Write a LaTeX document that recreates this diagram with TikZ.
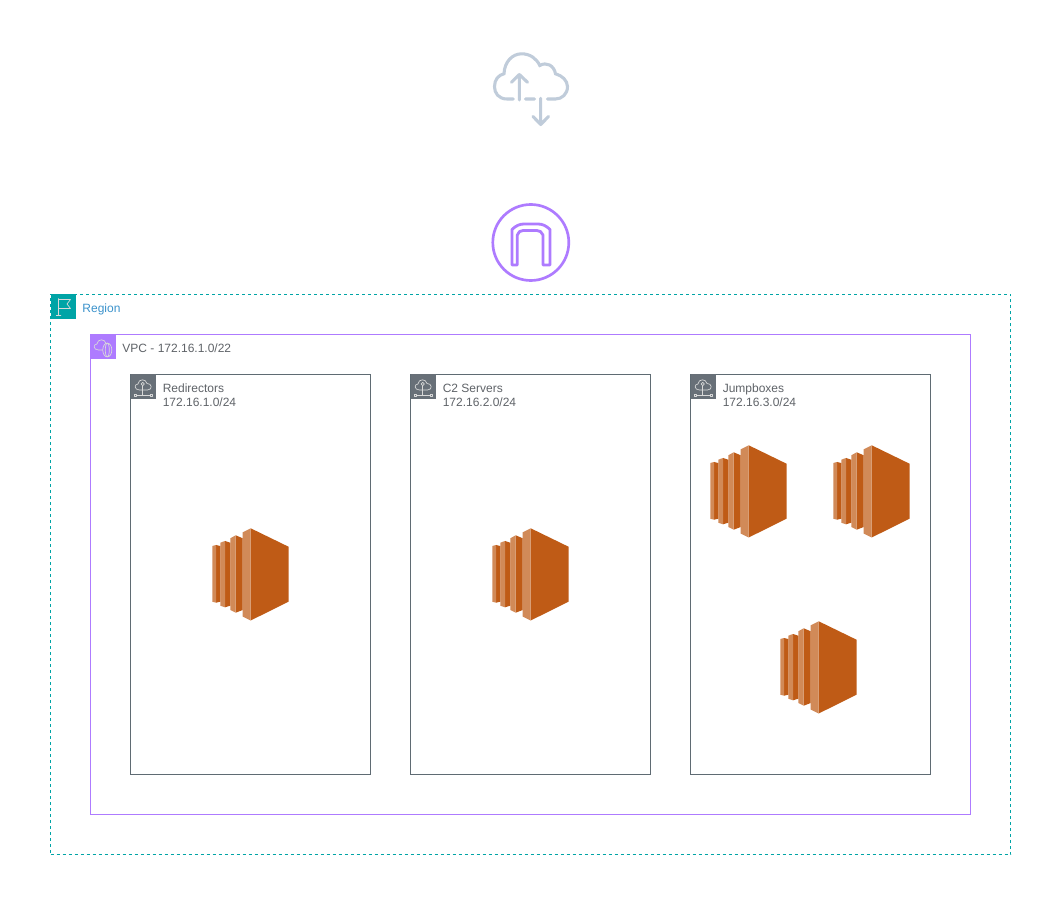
\documentclass[tikz,border=0pt]{standalone}
\usepackage{fontspec}
\setmainfont{Liberation Sans}
\usepackage{tikz}
\usetikzlibrary{positioning}
\definecolor{regioncol}{HTML}{00A4A6}
\definecolor{regiontxt}{HTML}{3C93CC}
\definecolor{vpccol}{HTML}{AE7BFF}
\definecolor{subnetcol}{HTML}{5F6B73}
\definecolor{subnettile}{HTML}{687078}
\definecolor{subnettxt}{HTML}{5F6368}
\definecolor{cloudcol}{HTML}{C0CCDA}
\definecolor{ec2dark}{HTML}{BF5B16}
\definecolor{ec2light}{HTML}{D18A58}
\tikzset{
    groupbox/.style={
           rectangle,
           draw,
           fill=none,
           outer sep=0pt,
           inner sep=0pt,
           line width=0.6pt,
           },
    tile/.style={
           rectangle,
           minimum size=18.75pt,
           outer sep=0pt,
           inner sep=0pt,
           anchor=north west,
           },
    grouplabel/.style={
           font=\fontsize{9}{10.5}\selectfont,
           align=left,
           inner sep=0pt,
           },
    tileicon/.style={
           draw=white!85!black, line width=0.5pt, fill=none,
           line join=round,
           },
    ec2/.pic={
        % front face
        \fill[ec2dark] (38.7,0.3) -- (76.5,18.7) -- (76.5,73.7) -- (38.7,92.5) -- cycle;
        \fill[ec2light] (30.7,4.3) -- (38.7,0.3) -- (38.7,92.5) -- (30.7,88.5) -- cycle;
        % three bars, back to front
        \fill[ec2dark] (23.7,7.3) -- (30.7,10.3) -- (30.7,82) -- (23.7,84.7) -- cycle;
        \fill[ec2light] (18.3,10.3) -- (23.7,7.3) -- (23.7,84.7) -- (18.3,82) -- cycle;
        \fill[ec2dark] (13,13) -- (18.3,14.7) -- (18.3,77.7) -- (13,79.3) -- cycle;
        \fill[ec2light] (8.3,14.7) -- (13,13) -- (13,79.3) -- (8.3,77.7) -- cycle;
        \fill[ec2dark] (4,17) -- (8.3,18) -- (8.3,73.7) -- (4,74.7) -- cycle;
        \fill[ec2light] (0.3,18) -- (4,17) -- (4,74.7) -- (0.3,73.7) -- cycle;
    },
    minicloud/.pic={
        \draw[tileicon] (-3.5,3.5) .. controls (-9,3.5) and (-9,-2.5) .. (-5,-2.5)
            .. controls (-4.5,-8) and (3,-8) .. (4,-3)
            .. controls (9,-3.5) and (10,3.5) .. (4.5,3.5) -- cycle;
    },
}

\begin{document}
\begin{tikzpicture}[x=0.75pt,y=-0.75pt]
    \useasboundingbox (0,0) rectangle (1061,905);
    \fill[white] (0,0) rectangle (1061,905);

    % REGION
    \node[groupbox,
        draw=regioncol,
        dash pattern=on 2.25pt off 2.25pt,
        minimum width=720pt,
        minimum height=420pt,
        anchor=north west] (G_REGION) at (50.5,294.5) {};
    \node[tile, fill=regioncol] (T_REGION) at (G_REGION.north west) {};
    \node[grouplabel,
        text=regiontxt,
        yshift=-1.5pt,
        right=5pt of T_REGION] (L_REGION) {Region};

    % VPC
    \node[groupbox,
        draw=vpccol,
        minimum width=660pt,
        minimum height=360pt,
        anchor=north west] (G_VPC) at (90.5,334.5) {};
    \node[tile, fill=vpccol] (T_VPC) at (G_VPC.north west) {};
    \node[grouplabel,
        text=subnettxt,
        yshift=-1.2pt,
        right=5pt of T_VPC] (L_VPC) {VPC - 172.16.1.0/22};

    % SUBNETS
    \node[groupbox,
        draw=subnetcol,
        minimum width=180pt,
        minimum height=300pt,
        anchor=north west] (G_RED) at (130.5,374.5) {};
    \node[groupbox,
        draw=subnetcol,
        minimum width=180pt,
        minimum height=300pt,
        right=30pt of G_RED] (G_C2) {};
    \node[groupbox,
        draw=subnetcol,
        minimum width=180pt,
        minimum height=300pt,
        right=30pt of G_C2] (G_JUMP) {};

    \foreach \grp/\txt in {RED/{Redirectors\\172.16.1.0/24},
                           C2/{C2 Servers\\172.16.2.0/24},
                           JUMP/{Jumpboxes\\172.16.3.0/24}}
    {
        \node[tile, fill=subnettile] (T_\grp) at (G_\grp.north west) {};
        \node[grouplabel,
            text=subnettxt,
            anchor=north west,
            xshift=24pt,
            yshift=-6.7pt] (L_\grp) at (G_\grp.north west) {\txt};
        % small cloud on a network line
        \pic[shift={(12.5,12)}] at (G_\grp.north west) {minicloud};
        \draw[tileicon] ([shift={(12.2,9.5)}]G_\grp.north west) circle (1.2pt);
        \draw[tileicon] ([shift={(12.2,11.5)}]G_\grp.north west) -- ([shift={(12.2,20.5)}]G_\grp.north west)
            ([shift={(5.5,20.5)}]G_\grp.north west) -- ([shift={(19.5,20.5)}]G_\grp.north west);
        \draw[tileicon] ([shift={(3.5,19.5)}]G_\grp.north west) rectangle ([shift={(5.5,21.5)}]G_\grp.north west);
        \draw[tileicon] ([shift={(19.5,19.5)}]G_\grp.north west) rectangle ([shift={(21.5,21.5)}]G_\grp.north west);
    }

    % white marks on the region and vpc tiles
    \draw[tileicon] ([shift={(8,4)}]G_REGION.north west) -- ([shift={(8,21)}]G_REGION.north west)
        ([shift={(5.5,21)}]G_REGION.north west) -- ([shift={(10.5,21)}]G_REGION.north west)
        ([shift={(8,5)}]G_REGION.north west) -- ([shift={(20,5)}]G_REGION.north west)
        -- ([shift={(16.5,9.5)}]G_REGION.north west) -- ([shift={(20,14)}]G_REGION.north west)
        -- ([shift={(8,14)}]G_REGION.north west);
    \pic[shift={(11.5,12)}] at (G_VPC.north west) {minicloud};
    \draw[tileicon, fill=vpccol] ([shift={(16.8,15.5)}]G_VPC.north west) ellipse (3.4pt and 5.2pt);
    \draw[tileicon] ([shift={(16.8,15.5)}]G_VPC.north west) ellipse (1.5pt and 5.2pt);

    % INSTANCES
    \pic (E_RED) at (212,528) {ec2};
    \pic (E_C2) at (492,528) {ec2};
    \pic (E_JUMP_A) at (710,445) {ec2};
    \pic (E_JUMP_B) at (833,445) {ec2};
    \pic (E_JUMP_C) at (780,621) {ec2};

    % INTERNET GATEWAY
    \node[circle,
        draw=vpccol,
        line width=2pt,
        minimum size=57pt,
        inner sep=0pt] (N_GATEWAY) at (530.8,242.5) {};
    \draw[vpccol, line width=2.1pt, line join=round]
        (512,265) -- (512,229.5) .. controls (516,225.5) and (520,224) .. (524,224)
        -- (538,224) .. controls (542,224) and (546,225.5) .. (550,229.5)
        -- (550,265) -- (543,265) -- (543,235)
        .. controls (541.5,232) and (540,230.5) .. (537,230.5) -- (523,230.5)
        .. controls (520,230.5) and (518.5,232) .. (517.3,235) -- (517.3,265) -- cycle;

    % INTERNET
    \draw[cloudcol, line width=2.3pt, line cap=round]
        (513.3,99) -- (507,99) .. controls (498.5,99) and (494.5,93) .. (494.5,86.7)
        .. controls (494.5,79.5) and (498.5,75) .. (504,73.8)
        .. controls (504.5,61.5) and (512.5,53.8) .. (521.7,53.8)
        .. controls (530,53.8) and (536.5,58.5) .. (539.8,65.5)
        .. controls (546.5,61.5) and (554,65.5) .. (555.5,73.8)
        .. controls (562,75.5) and (567.5,80.5) .. (567.5,86.7)
        .. controls (567.5,94) and (562,99) .. (555.5,99) -- (547.5,99)
        (534.5,99) -- (525.5,99);
    \draw[cloudcol, line width=2.3pt, line cap=round, line join=round]
        (519.3,100) -- (519.3,74.5)
        (511.5,82.3) -- (519.3,74.5) -- (527.5,82.3)
        (540.7,98.3) -- (540.7,124.5)
        (533,116.5) -- (540.7,124.5) -- (548.5,116.5);
\end{tikzpicture}
\end{document}
